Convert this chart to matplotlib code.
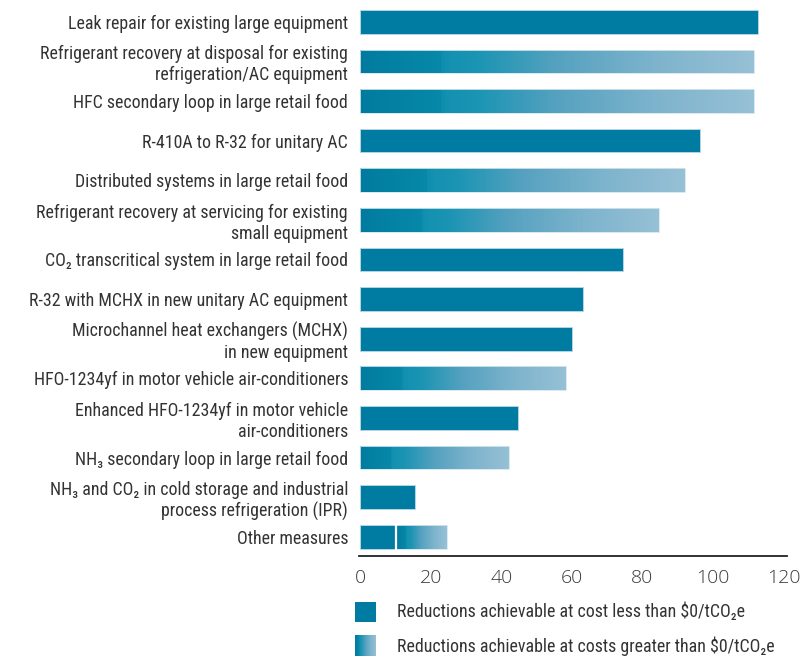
import matplotlib
matplotlib.use("Agg")
import matplotlib.pyplot as plt
import numpy as np
from matplotlib import font_manager as fm
from matplotlib.colors import LinearSegmentedColormap

labels = [
    "Leak repair for existing large equipment",
    "Refrigerant recovery at disposal for existing\nrefrigeration/AC equipment",
    "HFC secondary loop in large retail food",
    "R-410A to R-32 for unitary AC",
    "Distributed systems in large retail food",
    "Refrigerant recovery at servicing for existing\nsmall equipment",
    "CO\u2082 transcritical system in large retail food",
    "R-32 with MCHX in new unitary AC equipment",
    "Microchannel heat exchangers (MCHX)\nin new equipment",
    "HFO-1234yf in motor vehicle air-conditioners",
    "Enhanced HFO-1234yf in motor vehicle\nair-conditioners",
    "NH\u2083 secondary loop in large retail food",
    "NH\u2083 and CO\u2082 in cold storage and industrial\nprocess refrigeration (IPR)",
    "Other measures",
]
# reductions achievable at cost < $0/tCO2e
below_zero = [112.7, 0, 0, 96.2, 0, 0, 74.4, 63.1, 59.9, 0, 44.7, 0, 15.6, 10.1]
# reductions achievable at cost > $0/tCO2e
above_zero = [0, 111.7, 111.7, 0, 92.0, 84.8, 0, 0, 0, 58.4, 0, 42.3, 0, 14.4]
xticks = [0, 20, 40, 60, 80, 100, 120]
legend_labels = ["Reductions achievable at cost less than $0/tCO\u2082e",
                 "Reductions achievable at costs greater than $0/tCO\u2082e"]


def pick_condensed():
    ents = fm.fontManager.ttflist
    prefs = ['Roboto Condensed', 'Noto Sans', 'Open Sans Condensed', 'Open Sans',
             'DejaVu Sans', 'Liberation Sans Narrow', 'Roboto']
    for fam in prefs:
        for f in ents:
            if f.name != fam or f.style != 'normal':
                continue
            try:
                w = int(f.weight)
            except Exception:
                w = {'normal': 400, 'regular': 400, 'book': 400}.get(str(f.weight), 0)
            cond = ('condensed' in str(f.stretch) and 'semi' not in str(f.stretch)
                    and 'extra' not in str(f.stretch) and 'ultra' not in str(f.stretch)) \
                or 'Condensed' in fam or 'Narrow' in fam
            if cond and w == 400:
                return f.fname
    return None


path = pick_condensed()


def fp(size):
    if path:
        return fm.FontProperties(fname=path, size=size)
    return fm.FontProperties(family='DejaVu Sans', size=size * 0.8)


SOLID = "#007ba1"
TXT = "#333333"
cmap = LinearSegmentedColormap.from_list(
    "grad", [(0.0, "#007b9f"), (0.2, "#0788a8"), (0.215, "#1390b0"),
             (0.3, "#1b94b3"), (0.5, "#55a1bf"), (0.75, "#7db3cc"), (1.0, "#96c0d5")])
NSLICE = 200
fr = np.linspace(0, 1, NSLICE + 1)
slice_colors = cmap((fr[:-1] + fr[1:]) / 2)


def gradient_barh(axis, ypos, left, width, height):
    lefts = left + fr[:-1] * width
    widths = np.full(NSLICE, width / NSLICE) * 1.02
    axis.barh(np.full(NSLICE, ypos), widths, left=lefts, height=height,
              color=slice_colors, linewidth=0, zorder=2)


fig = plt.figure(figsize=(8.07, 6.62), dpi=100)
ax = fig.add_axes([0.445, 0.160, 0.530, 0.837])

n = len(labels)
y = np.arange(n)
h = 0.6
for i in range(n):
    b = below_zero[i]
    a = above_zero[i]
    if b > 0:
        ax.barh(i, b, height=h, color=SOLID, edgecolor="#bcd9e6", linewidth=0.6, zorder=2)
    if a > 0:
        gradient_barh(ax, i, b, a, h)
        ax.barh(i, a, left=b, height=h, facecolor='none', edgecolor="#d5e7ef",
                linewidth=0.6, zorder=3)
        if b > 0:
            ax.plot([b, b], [i - h / 2, i + h / 2], color='white', lw=1.6, zorder=4)

ax.set_xlim(-0.3, 120.9)
ax.set_ylim(13.49, -0.5)
ax.set_yticks(y)
ax.set_yticklabels(labels, color=TXT, linespacing=1.2, fontproperties=fp(12.9))
ax.tick_params(axis='y', length=0, pad=8)
ax.set_xticks(xticks)
ax.set_xticklabels([str(v) for v in xticks], fontsize=14, color="#3a3a3a",
                   family=["Open Sans", "DejaVu Sans"], fontweight='light')
ax.tick_params(axis='x', length=0, pad=9)
for s in ['top', 'right', 'left']:
    ax.spines[s].set_visible(False)
ax.spines['bottom'].set_color('#222222')
ax.spines['bottom'].set_linewidth(1.3)

# legend
W, H = 807, 662
sq1 = fig.add_axes([355 / W, 1 - 622 / H, 21 / W, 20 / H])
sq1.barh(0.5, 1, height=1, color=SOLID, linewidth=0)
sq1.set_xlim(0, 1); sq1.set_ylim(0, 1); sq1.axis('off')
sq2 = fig.add_axes([355 / W, 1 - 656 / H, 21 / W, 21 / H])
gradient_barh(sq2, 0.5, 0, 1, 1)
sq2.set_xlim(0, 1); sq2.set_ylim(0, 1); sq2.axis('off')
fig.text(397 / W, 1 - 612 / H, legend_labels[0], fontproperties=fp(12.9), color=TXT, va='center')
fig.text(397 / W, 1 - 646 / H, legend_labels[1], fontproperties=fp(12.9), color=TXT, va='center')

fig.savefig("out.png", dpi=100)
